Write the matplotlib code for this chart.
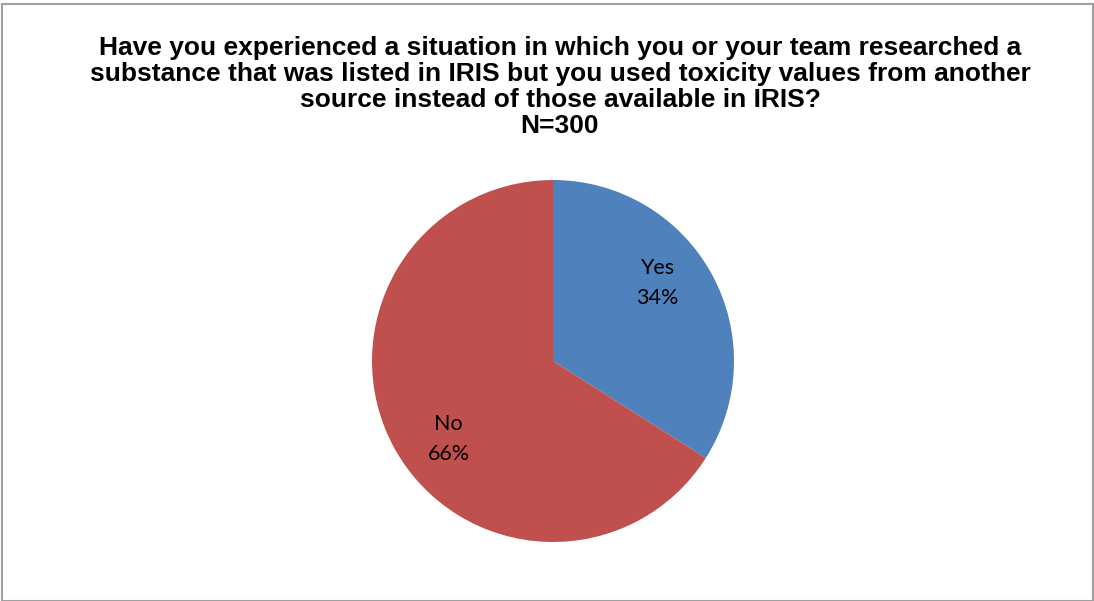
import matplotlib
matplotlib.use("Agg")
import numpy as np
import matplotlib.pyplot as plt
from matplotlib.patches import Rectangle

# survey answers (N=300)
answers = ["Yes", "No"]
shares = [34, 66]
colors = ["#4F81BD", "#C0504D"]

title = ("Have you experienced a situation in which you or your team researched a\n"
         "substance that was listed in IRIS but you used toxicity values from another\n"
         "source instead of those available in IRIS?\n"
         "N=300")

W, H = 1094, 601
fig = plt.figure(figsize=(W / 100, H / 100), dpi=100)

# gray frame round the chart area
fig.patches.append(Rectangle((2 / W, 0), (W - 3) / W, (H - 4) / H,
                             transform=fig.transFigure, fill=False,
                             edgecolor="#a0a0a0", linewidth=1.5))

fig.text(560 / W, 1 - 87 / H, title, ha="center", va="center",
         fontsize=19, fontweight="bold", family="Liberation Sans",
         linespacing=1.11)

# pie centre (553, 361), radius 181 px
cx, cy, r = 553, 361, 181
ax = fig.add_axes([(cx - r) / W, (H - cy - r) / H, 2 * r / W, 2 * r / H])
labels = [f"{a}\n{s}%" for a, s in zip(answers, shares)]
wedges, texts = ax.pie(shares, labels=labels, colors=colors, startangle=90,
                       counterclock=False, labeldistance=0.72,
                       textprops=dict(fontsize=15.5, family="Lato"))
# excel nudged the labels a little counter-clockwise
rot = np.deg2rad(8)
for t in texts:
    x, y = t.get_position()
    t.set_position((x * np.cos(rot) - y * np.sin(rot),
                    x * np.sin(rot) + y * np.cos(rot)))
    t.set_ha("center")
    t.set_va("center")
    t.set_multialignment("center")
    t.set_linespacing(1.6)
ax.set_xlim(-1, 1)
ax.set_ylim(-1, 1)
ax.set_aspect("equal")

fig.savefig("out.png", dpi=100)
